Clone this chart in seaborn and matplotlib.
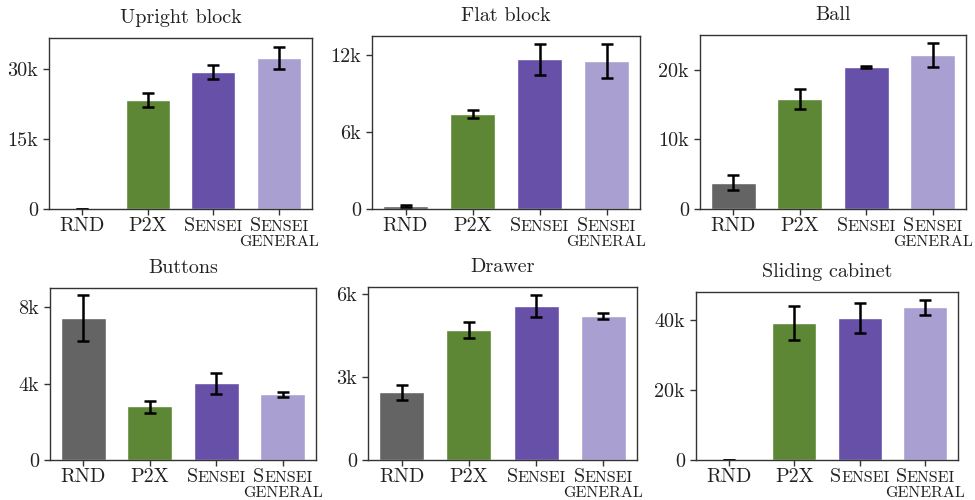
import numpy as np
import pandas as pd
import matplotlib
matplotlib.use("Agg")
import matplotlib.pyplot as plt
from matplotlib.offsetbox import TextArea, HPacker, VPacker, AnnotationBbox
import seaborn as sns

# methods and colours
methods = ["RND", "P2X", "Sensei", "Sensei general"]
colors = ["#646464", "#5d8734", "#6750a8", "#aa9fd1"]

# mean reward per task, with error bar bounds
upright_mean = [0.05, 23.3, 29.3, 32.4]
upright_lo = [0.0, 21.8, 27.9, 29.9]
upright_hi = [0.1, 24.9, 30.9, 34.6]

flat_mean = [0.26, 7.41, 11.69, 11.53]
flat_lo = [0.18, 7.1, 10.48, 10.25]
flat_hi = [0.34, 7.7, 12.9, 12.9]

ball_mean = [3.8, 15.83, 20.4, 22.18]
ball_lo = [2.7, 14.34, 20.32, 20.4]
ball_hi = [4.86, 17.3, 20.48, 23.8]

buttons_mean = [7.44, 2.84, 4.04, 3.47]
buttons_lo = [6.25, 2.49, 3.45, 3.33]
buttons_hi = [8.63, 3.12, 4.56, 3.57]

drawer_mean = [2.46, 4.69, 5.56, 5.2]
drawer_lo = [2.17, 4.39, 5.17, 5.09]
drawer_hi = [2.71, 4.99, 5.94, 5.29]

sliding_mean = [0.05, 39.0, 40.45, 43.6]
sliding_lo = [0.0, 34.2, 36.3, 41.2]
sliding_hi = [0.1, 44.0, 44.9, 45.7]

tasks = [
    ("Upright block", upright_mean, upright_lo, upright_hi, [0, 15, 30], 36.6),
    ("Flat block", flat_mean, flat_lo, flat_hi, [0, 6, 12], 13.5),
    ("Ball", ball_mean, ball_lo, ball_hi, [0, 10, 20], 25.0),
    ("Buttons", buttons_mean, buttons_lo, buttons_hi, [0, 4, 8], 9.02),
    ("Drawer", drawer_mean, drawer_lo, drawer_hi, [0, 3, 6], 6.24),
    ("Sliding cabinet", sliding_mean, sliding_lo, sliding_hi, [0, 20, 40], 47.9),
]

# axes boxes in pixels: left, right, top, bottom
boxes = [
    (49, 312, 38, 209), (372, 640, 36, 209), (700, 966, 35, 209),
    (50, 316, 288, 460), (368, 637, 287, 460), (696, 958, 292, 460),
]

sns.set_theme(style="ticks")
plt.rcParams["font.family"] = ["cmr10", "DejaVu Serif"]
plt.rcParams["axes.formatter.use_mathtext"] = True

W, H = 975, 500
fig = plt.figure(figsize=(W / 100, H / 100), dpi=100)

big, small = 14.5, 11.5
ink = "#222222"


def method_label(name):
    if name.startswith("Sensei"):
        row = HPacker(children=[TextArea("S", textprops=dict(size=big, color=ink)),
                                TextArea("ENSEI", textprops=dict(size=small, color=ink))],
                      align="baseline", pad=0, sep=0)
        if name == "Sensei general":
            gen = TextArea("GENERAL", textprops=dict(size=small, color=ink))
            return VPacker(children=[row, gen], align="center", pad=0, sep=0)
        return row
    return TextArea(name, textprops=dict(size=big, color=ink))


for (title, mean, lo, hi, ticks, top), (l, r, t, b) in zip(tasks, boxes):
    ax = fig.add_axes([l / W, 1 - b / H, (r - l) / W, (b - t) / H])
    df = pd.DataFrame({"method": methods, "value": np.array(mean) * 1000})
    sns.barplot(data=df, x="method", y="value", hue="method", palette=colors,
                legend=False, width=0.67, errorbar=None, saturation=1, ax=ax)
    m = np.array(mean) * 1000
    yerr = [m - np.array(lo) * 1000, np.array(hi) * 1000 - m]
    ax.errorbar(range(len(methods)), m, yerr=yerr, fmt="none", ecolor="black",
                elinewidth=1.8, capsize=4, capthick=1.8)
    ax.set_ylim(0, top * 1000)
    ax.set_xlim(-0.5, 3.5)
    ax.set_yticks([v * 1000 for v in ticks])
    ax.set_yticklabels(["0" if v == 0 else f"{v}k" for v in ticks], fontsize=big, color=ink)
    ax.set_xticklabels([])
    ax.set_xlabel("")
    ax.set_ylabel("")
    ax.set_title(title, fontsize=big, color=ink, pad=11)
    ax.tick_params(length=4.5, width=1, color="#333333")
    for sp in ax.spines.values():
        sp.set_visible(True)
        sp.set_color("#333333")
        sp.set_linewidth(1)
    for i, name in enumerate(methods):
        ab = AnnotationBbox(method_label(name), (i, 0), xycoords=ax.get_xaxis_transform(),
                            xybox=(0, -6), boxcoords="offset points",
                            box_alignment=(0.5, 1), frameon=False, pad=0)
        ax.add_artist(ab)

fig.savefig("out.png", dpi=100)
